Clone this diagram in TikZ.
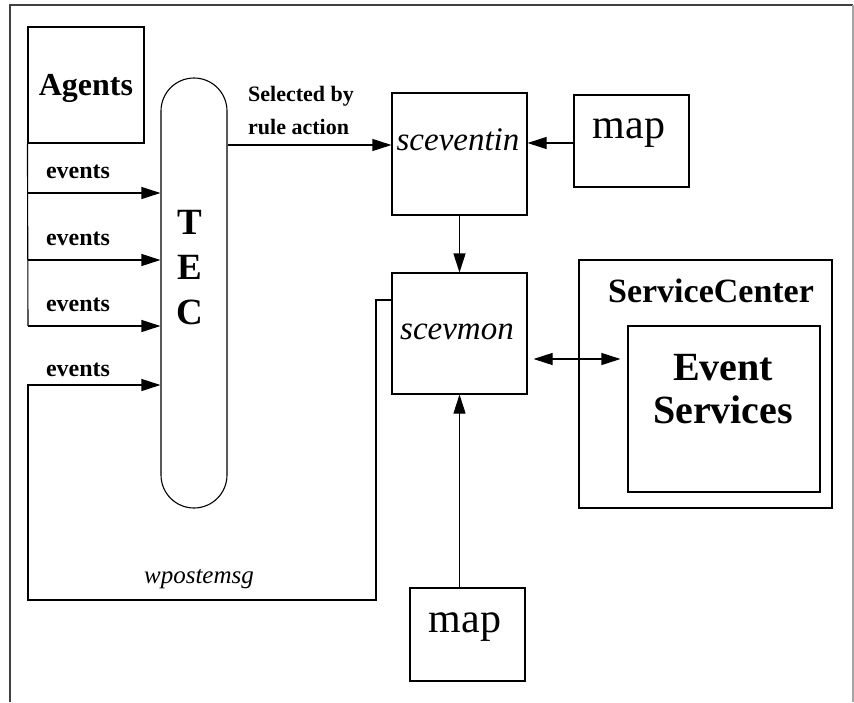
\documentclass[tikz,border=0pt]{standalone}
\usepackage{fontspec}
\setmainfont{Liberation Serif}
\usetikzlibrary{arrows.meta}
\tikzset{
  box/.style={draw, line width=1.1pt, inner sep=0pt},
  conn/.style={line width=1.1pt},
  tip/.tip={Triangle[length=19pt,width=12pt]},
  arr/.style={conn, -tip},
  darr/.style={conn, tip-tip},
  txt/.style={inner sep=0pt, anchor=base},
}
\begin{document}
\begin{tikzpicture}[x=1pt,y=-1pt]
\useasboundingbox (0,0) rectangle (854,702);
% outer frame
\draw[line width=1.1pt, black!75] (10,702) -- (10,5) -- (853,5);
\draw[line width=1.1pt, black!35] (853,5) -- (853,702);

% boxes
\node[box, minimum width=116pt, minimum height=116pt] (agents) at (86,85) {};
\node[box, minimum width=66pt, minimum height=430pt, rounded corners=33pt] (tec) at (194,293) {};
\node[box, minimum width=135pt, minimum height=122pt] (sceventin) at (459.5,154) {};
\node[box, minimum width=115pt, minimum height=92pt] (map1) at (631.5,141) {};
\node[box, minimum width=135pt, minimum height=121pt] (scevmon) at (459.5,333.5) {};
\node[box, minimum width=253pt, minimum height=248pt] (sc) at (705.5,384) {};
\node[box, minimum width=192pt, minimum height=166pt] (es) at (724,409) {};
\node[box, minimum width=115pt, minimum height=93pt] (map2) at (467.5,634.5) {};

% texts
\node[txt, font=\fontsize{32}{38}\selectfont\bfseries] (agentslbl) at (86,95) {Agents};
\node[txt, font=\fontsize{24}{28}\selectfont\bfseries] (ev1lbl) at (78,178) {events};
\node[txt, font=\fontsize{24}{28}\selectfont\bfseries] (ev2lbl) at (78,245) {events};
\node[txt, font=\fontsize{24}{28}\selectfont\bfseries] (ev3lbl) at (78,311) {events};
\node[txt, font=\fontsize{24}{28}\selectfont\bfseries] (ev4lbl) at (78,376) {events};
\node[inner sep=0pt, align=center, font=\fontsize{37}{45}\selectfont\bfseries] (teclbl) at (190,268) {T\\E\\C};
\node[inner sep=0pt, anchor=north west, align=left, font=\fontsize{22}{33}\selectfont\bfseries] (sellbl) at (248,86) {Selected by\\rule action};
\node[txt, font=\fontsize{33}{40}\selectfont\itshape] (sceventinlbl) at (458,150) {sceventin};
\node[txt, font=\fontsize{42}{50}\selectfont] (map1lbl) at (629,138) {map};
\node[txt, font=\fontsize{33}{40}\selectfont\itshape] (scevmonlbl) at (457,339) {scevmon};
\node[txt, font=\fontsize{34}{40}\selectfont\bfseries] (sclbl) at (711,302) {ServiceCenter};
\node[inner sep=0pt, anchor=north, align=center, font=\fontsize{40}{43}\selectfont\bfseries] (eslbl) at (723,354) {Event\\Services};
\node[txt, font=\fontsize{42}{50}\selectfont] (map2lbl) at (465,632) {map};
\node[txt, font=\fontsize{25}{30}\selectfont\itshape] (wplbl) at (199,583) {wpostemsg};

% event lines
\coordinate (e1) at (28,193);
\coordinate (e2) at (28,260);
\coordinate (e3) at (28,326);
\draw[conn] (agents.south west) -- (e3);
\draw[arr] (e1) -- (e1 -| tec.west);
\draw[arr] (e2) -- (e2 -| tec.west);
\draw[arr] (e3) -- (e3 -| tec.west);

% wpostemsg loop
\coordinate (w1) at (376,300);
\coordinate (w2) at (376,600);
\coordinate (w3) at (28,600);
\coordinate (w4) at (28,385);
\draw[arr] (w1 -| scevmon.west) -- (w1) -- (w2) -- (w3) -- (w4) -- (w4 -| tec.west);

% selected by rule action
\coordinate (sa) at (300,145);
\draw[arr] (sa -| tec.east) -- (sa -| sceventin.west);

% map -> sceventin
\coordinate (ma) at (550,143);
\draw[arr] (ma -| map1.west) -- (ma -| sceventin.east);

% sceventin -> scevmon
\draw[arr] (sceventin.south) -- (scevmon.north);

% map2 -> scevmon
\draw[arr] (scevmon.south |- map2.north) -- (scevmon.south);

% scevmon <-> event services
\coordinate (da) at (575,359);
\draw[darr, shorten <=6pt, shorten >=7pt] (da -| scevmon.east) -- (da -| es.west);
\end{tikzpicture}
\end{document}
